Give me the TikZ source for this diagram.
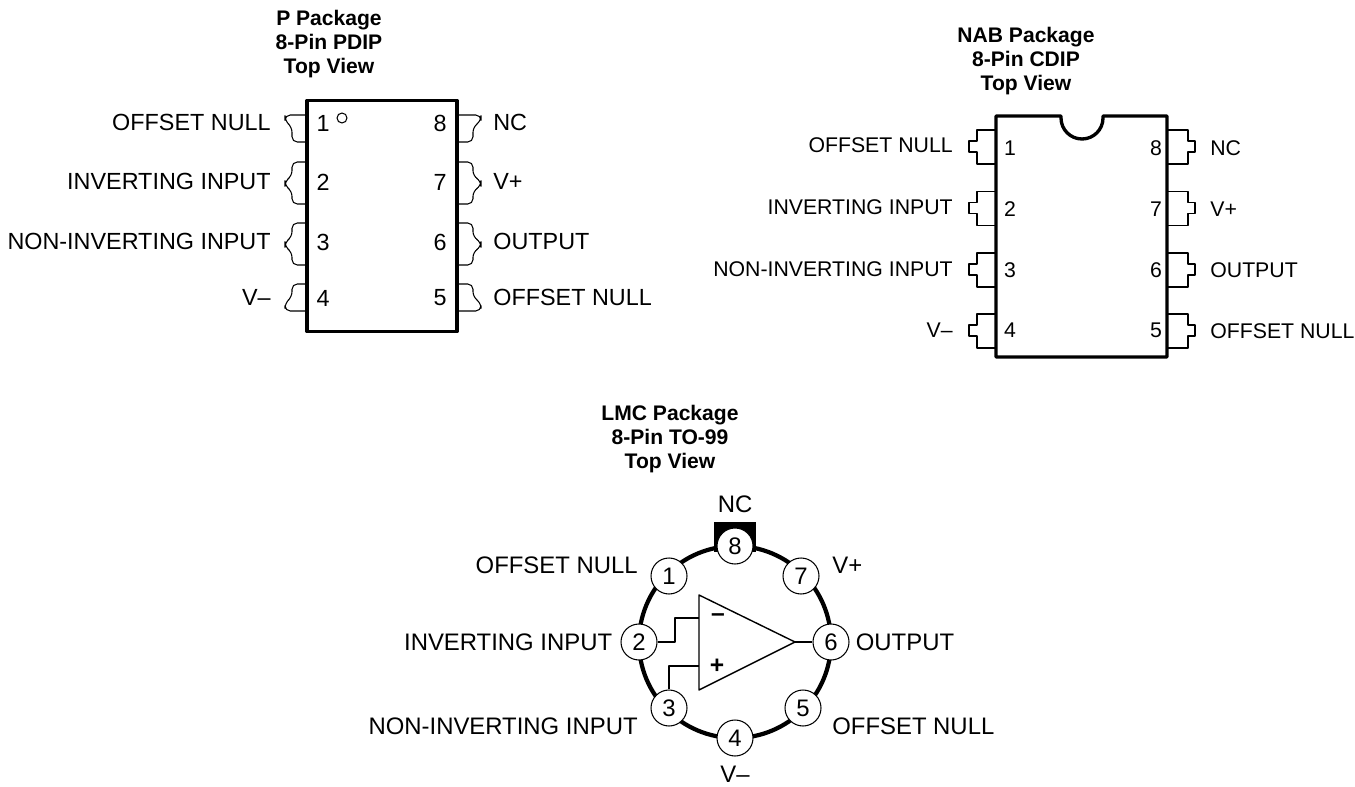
\documentclass[tikz,border=0pt]{standalone}
\usepackage{fontspec}
\setmainfont{Liberation Sans}
\usetikzlibrary{calc, positioning, shapes}

\tikzset{
    title/.style={align=center, inner sep=0pt, font=\bfseries\fontsize{12}{13.9}\selectfont},
    pinname/.style={inner sep=0pt, font=\fontsize{13.3}{15}\selectfont},
    smallname/.style={inner sep=0pt, font=\fontsize{12.1}{14}\selectfont},
    canname/.style={inner sep=0pt, font=\fontsize{13.6}{15}\selectfont},
    pinno/.style={inner sep=0pt, font=\fontsize{13.3}{15}\selectfont},
    smallno/.style={inner sep=0pt, font=\fontsize{12.1}{14}\selectfont},
    lead/.style={line width=0.6pt, line join=round},
    body/.style={line width=1.9pt, line join=round},
    can/.style={draw, circle, fill=white, line width=0.6pt, minimum size=36*0.02cm, inner sep=0pt, font=\fontsize{13.6}{15}\selectfont}
}

\begin{document}
\begin{tikzpicture}[x=0.02cm, y=-0.02cm]
    \useasboundingbox (0,0) rectangle (1355,787);

    % P package
    \node[title] (Ptitle) at (329,44) {P Package\\8-Pin PDIP\\Top View};
    \foreach \xa/\xb/\xc in {307/292/285, 457/473/481} {
        \draw[lead, rounded corners=3] (\xa,115) -- (\xc,115) -- (\xc,121) -- (\xb,127) -- (\xb,142) -- (\xa,142);
        \draw[lead, rounded corners=3] (\xa,162) -- (\xb,162) -- (\xb,176) -- (\xc,181) -- (\xc,186) -- (\xb,191) -- (\xb,204) -- (\xa,204);
        \draw[lead, rounded corners=3] (\xa,223) -- (\xb,223) -- (\xb,237) -- (\xc,242) -- (\xc,247) -- (\xb,252) -- (\xb,265) -- (\xa,265);
        \draw[lead, rounded corners=3] (\xa,284) -- (\xb,284) -- (\xb,297) -- (\xc,303) -- (\xc,311) -- (\xa,311);
    }
    \node[draw, rectangle, body, minimum width=150*0.02cm, minimum height=231*0.02cm] (P) at (382,216) {};
    \draw[lead] (342,118) circle[radius=5];
    \foreach \n/\y/\l/\t in {1/123/122/OFFSET NULL, 2/182/181/INVERTING INPUT, 3/242/241/NON-INVERTING INPUT, 4/298/297/V--} {
        \node[pinno] (Pn\n) at (323,\y) {\n};
        \node[pinname, anchor=east] (Pl\n) at (271,\l) {\t};
    }
    \foreach \n/\y/\l/\t in {8/123/122/NC, 7/182/181/V+, 6/242/241/OUTPUT, 5/298/297/OFFSET NULL} {
        \node[pinno] (Pn\n) at (440,\y) {\n};
        \node[pinname, anchor=west] (Pl\n) at (493,\l) {\t};
    }

    % NAB package
    \node[title] (Ntitle) at (1026,61) {NAB Package\\8-Pin CDIP\\Top View};
    \foreach \y in {130,191.5,253,314} {
        \draw[lead] (996,\y) -- (977,\y) -- (977,\y+11) -- (969,\y+11) -- (969,\y+22) -- (977,\y+22) -- (977,\y+34) -- (996,\y+34);
        \draw[lead] (1167,\y) -- (1188,\y) -- (1188,\y+11) -- (1195,\y+11) -- (1195,\y+22) -- (1188,\y+22) -- (1188,\y+34) -- (1167,\y+34);
    }
    \draw[body] (996,116) -- (1061,116) -- (1061,118) arc[start angle=180, end angle=0, radius=21] -- (1103,116) -- (1167,116) -- (1167,357) -- (996,357) -- cycle;
    \foreach \n/\y/\l/\t in {1/148/145/OFFSET NULL, 2/209/207/INVERTING INPUT, 3/270/269/NON-INVERTING INPUT, 4/330/330/V--} {
        \node[smallno] (Nn\n) at (1010,\y) {\n};
        \node[smallname, anchor=east] (Nl\n) at (953,\l) {\t};
    }
    \foreach \n/\y/\l/\t in {8/148/148/NC, 7/209/209/V+, 6/270/270/OUTPUT, 5/330/331/OFFSET NULL} {
        \node[smallno] (Nn\n) at (1156,\y) {\n};
        \node[smallname, anchor=west] (Nl\n) at (1210,\l) {\t};
    }

    % LMC package
    \node[title] (Ltitle) at (670,439) {LMC Package\\8-Pin TO-99\\Top View};
    \fill (714,522) rectangle (756,552);
    \node[draw, circle, body, line width=2.4pt, minimum size=192*0.02cm, inner sep=0pt] (ring) at (735,642) {};
    \foreach \n/\x/\y in {1/669/576, 2/639/642, 3/669/708, 4/735/738, 5/803/708, 6/831/642, 7/801/576, 8/735/546} {
        \node[can] (L\n) at (\x,\y) {\n};
    }
    \coordinate (tipA) at (699,595);
    \coordinate (tipB) at (699,690);
    \coordinate (tipC) at (795,642);
    \coordinate (inA) at (699,618);
    \coordinate (inB) at (699,666);
    \draw[lead, line width=0.8pt] (tipA) -- (tipB) -- (tipC) -- cycle;
    \draw[lead] (tipC) -- (L6);
    \draw[lead] (L2) -- (675,642) |- (inA);
    \draw[lead] (L3) |- (inB);
    \node[inner sep=0pt, font=\bfseries\fontsize{14}{15}\selectfont] (minus) at (718,618) {--};
    \node[inner sep=0pt, font=\bfseries\fontsize{14}{15}\selectfont] (plus) at (717,666) {+};

    \node[canname, above=14*0.02cm of L8] (Ll8) {NC};
    \node[canname, anchor=east] (Ll1) at (638,565) {OFFSET NULL};
    \node[canname, anchor=west] (Ll7) at (832,565) {V+};
    \node[canname, left=8*0.02cm of L2] (Ll2) {INVERTING INPUT};
    \node[canname, right=6*0.02cm of L6] (Ll6) {OUTPUT};
    \node[canname, anchor=east] (Ll3) at (638,726) {NON-INVERTING INPUT};
    \node[canname, anchor=west] (Ll5) at (832,726) {OFFSET NULL};
    \node[canname, below=9*0.02cm of L4] (Ll4) {V--};
\end{tikzpicture}
\end{document}
